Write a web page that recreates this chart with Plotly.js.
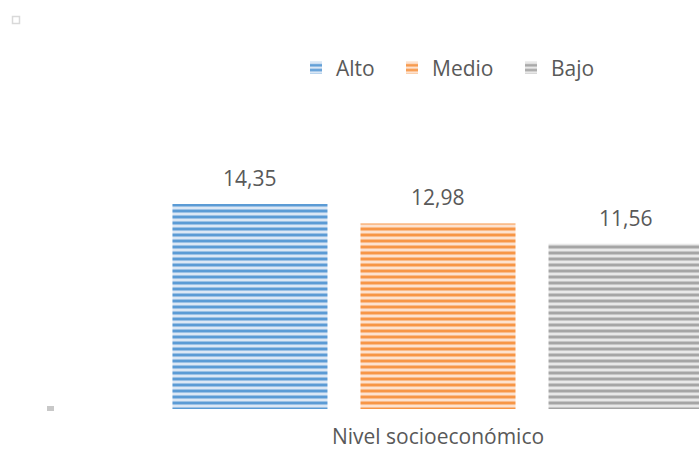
<!DOCTYPE html>
<html>
<head>
<meta charset="utf-8">
<script src="https://cdn.plot.ly/plotly-3.0.1.min.js"></script>
<style>html,body{margin:0;padding:0;background:#fff;}#chart{width:699px;height:449px;}</style>
</head>
<body>
<div id="chart"></div>
<script>
const categories = ["Nivel socioeconómico"];
const seriesNames = ["Alto", "Medio", "Bajo"];
const alto = [14.35];
const medio = [12.98];
const bajo = [11.56];
const seriesValues = [alto, medio, bajo];

const fgColors = ["#5b9bd5", "#f79646", "#a5a5a5"];
const bgColors = ["#dbe7f5", "#fde2cf", "#e8e8e8"];
const textColor = "#595959";
const fontFamily = "'Open Sans', sans-serif";
const legendIds = ["legend", "legend2", "legend3"];
const legendX = [296, 392, 511];

const traces = seriesNames.map((name, i) => ({
  type: "bar",
  name: name,
  x: categories,
  y: seriesValues[i],
  legend: legendIds[i],
  marker: {
    color: fgColors[i],
    line: {width: 0},
    pattern: {shape: "-", fgcolor: fgColors[i], bgcolor: bgColors[i], size: 6, solidity: 0.5, fillmode: "replace"}
  },
  hoverinfo: "none"
}));

const shifts = [-188, 0, 188];
const annotations = seriesNames.map((name, i) => ({
  x: categories[0], y: seriesValues[i][0], xref: "x", yref: "y",
  text: seriesValues[i][0].toFixed(2).replace(".", ","),
  showarrow: false, xshift: shifts[i], yshift: 10, yanchor: "bottom",
  font: {family: fontFamily, size: 21, color: textColor}
}));

const layout = {
  width: 699, height: 449,
  margin: {l: 0, r: 0, t: 100, b: 40},
  paper_bgcolor: "#ffffff", plot_bgcolor: "#ffffff",
  barmode: "group", bargap: 0.193, bargroupgap: 0.1755,
  separators: ",.",
  showlegend: true,
  xaxis: {type: "category", range: [-0.6266, 0.3734], showline: false, showgrid: false, zeroline: false,
          ticks: "", tickfont: {family: fontFamily, size: 21, color: textColor}, ticklabelstandoff: 13},
  yaxis: {range: [0, 21.62], visible: false, showgrid: false, zeroline: false},
  annotations: annotations,
  shapes: [
    {type: "rect", xref: "paper", yref: "paper", x0: 12.5/699, x1: 19.5/699, y0: (409-23.5)/309, y1: (409-16.5)/309,
     line: {color: "#d9d9d9", width: 1.5}, fillcolor: "rgba(0,0,0,0)"},
    {type: "rect", xref: "paper", yref: "paper", x0: 47/699, x1: 54/699, y0: (409-411)/309, y1: (409-406)/309,
     line: {width: 0}, fillcolor: "#c8c8c8"}
  ]
};
legendIds.forEach((id, i) => {
  layout[id] = {orientation: "h", x: legendX[i] / 699, xanchor: "left", y: (409 - 68) / 309, yanchor: "middle",
                font: {family: fontFamily, size: 21, color: textColor}, itemwidth: 30,
                bgcolor: "rgba(0,0,0,0)"};
});

Plotly.newPlot("chart", traces, layout, {displayModeBar: false, staticPlot: true});
</script>
</body>
</html>
